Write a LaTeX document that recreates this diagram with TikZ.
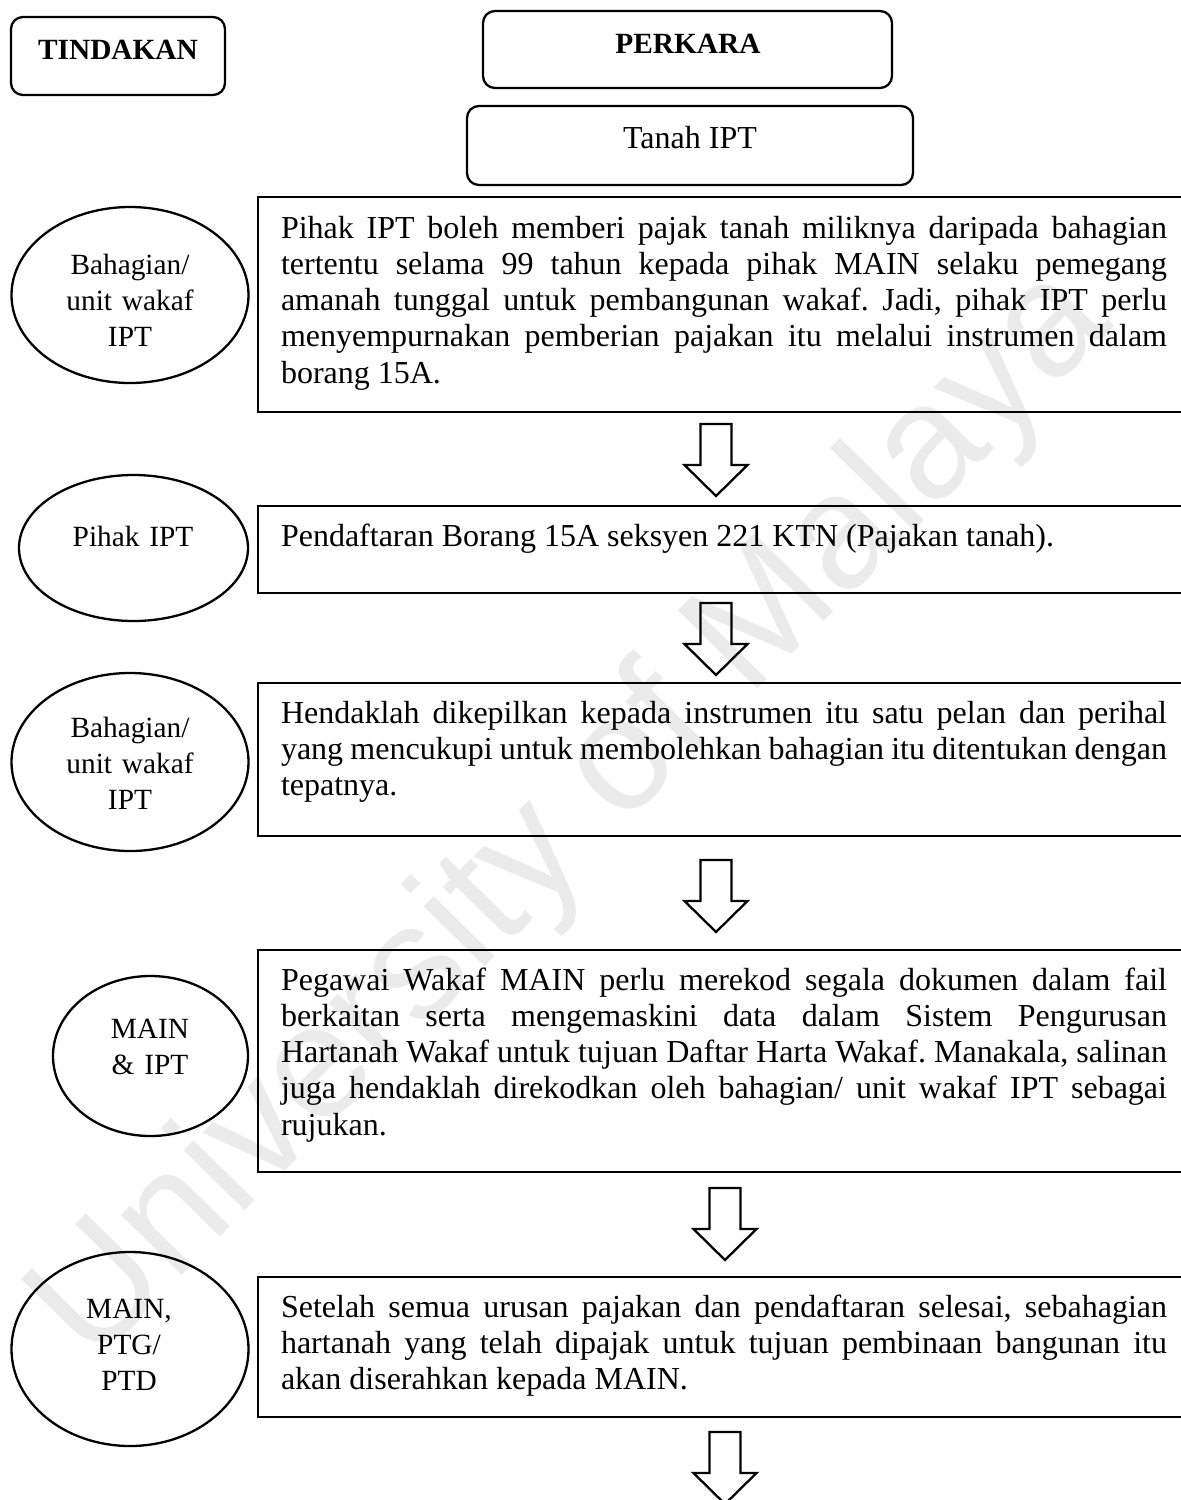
\documentclass[tikz,border=0pt]{standalone}
\usepackage{fontspec}
\setmainfont{Liberation Serif}
\newfontfamily\wmfont{Liberation Sans}
\usetikzlibrary{shapes.geometric}
\hyphenpenalty=10000
\exhyphenpenalty=10000
\tolerance=9999
\frenchspacing
\newcommand{\fl}{\vrule height 12pt depth 0pt width 0pt\relax}
\begin{document}
\begin{tikzpicture}[x=0.5pt,y=-0.5pt,
  every node/.style={inner sep=0pt, outer sep=0pt},
  hdbox/.style={draw, line width=1.15pt, rounded corners=6pt, rectangle},
  stepbox/.style={draw, line width=1.15pt, rectangle, anchor=north west, minimum width=496pt},
  actell/.style={draw, line width=1.15pt, ellipse},
  bodytext/.style={anchor=north west, text width=443pt, align=justify,
    font=\fontsize{16}{18.15}\selectfont\frenchspacing},
  elltext/.style={anchor=north, text width=110pt, align=center, font=\fontsize{14.67}{18.15}\selectfont},
  hdtext/.style={anchor=base, font=\fontsize{14.67}{18}\selectfont\bfseries},
  blockarrow/.pic={\draw[line width=1.15pt, line join=miter]
    (-15.5,0) -- (-15.5,41) -- (-31.5,41) -- (0,72) -- (31.5,41) -- (15.5,41) -- (15.5,0) -- cycle;}
]
\useasboundingbox (0,0) rectangle (1181,1500);
\clip (0,0) rectangle (1181,1500);

% watermark
\node[rotate=45.5, text=black!8, font=\wmfont\fontsize{81}{81}\selectfont] (wm) at (574,817) {University of Malaya};

% headings
\node[hdbox, minimum width=107pt, minimum height=39pt] (hT) at (118,56) {};
\node[hdtext] (hTt) at (118,59) {TINDAKAN};
\node[hdbox, minimum width=204.5pt, minimum height=38.5pt] (hP) at (687.5,49.5) {};
\node[hdtext] (hPt) at (688,53) {PERKARA};
\node[hdbox, minimum width=223pt, minimum height=39.5pt] (hS) at (690,145.5) {};
\node[anchor=base, font=\fontsize{16}{18}\selectfont] (hSt) at (690,148) {Tanah IPT};

% step boxes
\node[stepbox, minimum height=107.5pt] (b1) at (258,197) {};
\node[stepbox, minimum height=43.5pt] (b2) at (258,506) {};
\node[stepbox, minimum height=76.5pt] (b3) at (258,683) {};
\node[stepbox, minimum height=111pt] (b4) at (258,950) {};
\node[stepbox, minimum height=70pt] (b5) at (258,1277) {};

\node[bodytext] (t1) at (281,214) {\fl Pihak IPT boleh memberi pajak tanah miliknya daripada bahagian\linebreak
tertentu selama 99 tahun kepada pihak MAIN selaku pemegang\linebreak
amanah tunggal untuk pembangunan wakaf. Jadi, pihak IPT perlu\linebreak
menyempurnakan pemberian pajakan itu melalui instrumen dalam\linebreak
borang 15A.};
\node[bodytext] (t2) at (281,522) {\fl Pendaftaran Borang 15A seksyen 221 KTN (Pajakan tanah).};
\node[bodytext] (t3) at (281,699) {\fl Hendaklah dikepilkan kepada instrumen itu satu pelan dan perihal\linebreak
yang mencukupi untuk membolehkan bahagian itu ditentukan dengan\linebreak
tepatnya.};
\node[bodytext] (t4) at (281,966) {\fl Pegawai Wakaf MAIN perlu merekod segala dokumen dalam fail\linebreak
berkaitan serta mengemaskini data dalam Sistem Pengurusan\linebreak
Hartanah Wakaf untuk tujuan Daftar Harta Wakaf. Manakala, salinan\linebreak
juga hendaklah direkodkan oleh bahagian/ unit wakaf IPT sebagai\linebreak
rujukan.};
\node[bodytext] (t5) at (281,1293) {\fl Setelah semua urusan pajakan dan pendaftaran selesai, sebahagian\linebreak
hartanah yang telah dipajak untuk tujuan pembinaan bangunan itu\linebreak
akan diserahkan kepada MAIN.};

% action ellipses
\node[actell, minimum width=118.5pt, minimum height=88pt] (e1) at (130,295) {};
\node[actell, minimum width=114.5pt, minimum height=73pt] (e2) at (133.5,548) {};
\node[actell, minimum width=118.5pt, minimum height=89pt] (e3) at (130,762) {};
\node[actell, minimum width=97.5pt, minimum height=80pt] (e4) at (150.5,1056) {};
\node[actell, minimum width=118.5pt, minimum height=97pt] (e5) at (130,1349) {};

\node[elltext] (et1) at (130,250) {\fl Bahagian/\\unit wakaf\\IPT};
\node[elltext] (et2) at (133,522) {\fl Pihak IPT};
\node[elltext] (et3) at (130,713) {\fl Bahagian/\\unit wakaf\\IPT};
\node[elltext] (et4) at (150,1014) {\fl MAIN\\\& IPT};
\node[elltext] (et5) at (129,1294) {\fl MAIN,\\PTG/\\PTD};

% block arrows
\coordinate (a1) at (716,424);
\coordinate (a2) at (716,603);
\coordinate (a3) at (716,860);
\coordinate (a4) at (725,1188);
\coordinate (a5) at (725,1432);
\foreach \a in {a1,a2,a3,a4,a5} { \pic at (\a) {blockarrow}; }
\end{tikzpicture}
\end{document}
